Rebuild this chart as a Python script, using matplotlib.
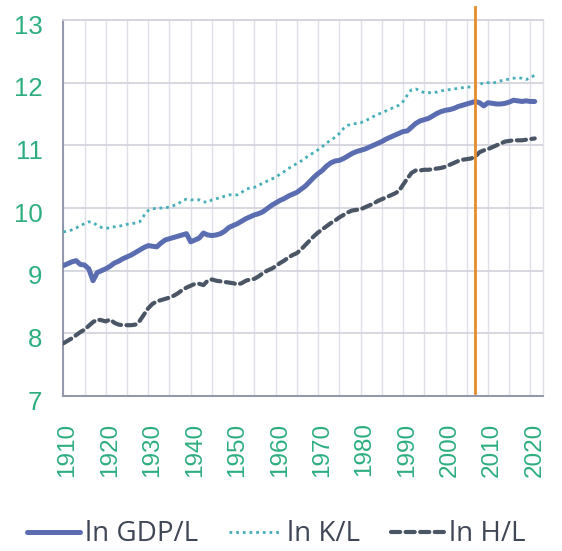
import numpy as np
import matplotlib
matplotlib.use('Agg')
import matplotlib.pyplot as plt
from matplotlib.transforms import ScaledTranslation

# Years and series.
years = np.arange(1910, 2022)

ln_gdp_l = [
    9.08, 9.11, 9.14, 9.16, 9.10, 9.09, 9.03, 8.84, 8.97, 9.00,
    9.03, 9.07, 9.12, 9.15, 9.19, 9.22, 9.25, 9.29, 9.33, 9.37,
    9.40, 9.39, 9.38, 9.44, 9.49, 9.51, 9.53, 9.55, 9.57, 9.59,
    9.46, 9.49, 9.52, 9.60, 9.57, 9.56, 9.57, 9.59, 9.63, 9.69,
    9.72, 9.75, 9.79, 9.83, 9.86, 9.89, 9.91, 9.94, 9.99, 10.04,
    10.08, 10.12, 10.15, 10.19, 10.22, 10.25, 10.30, 10.35, 10.42, 10.49,
    10.55, 10.60, 10.67, 10.72, 10.75, 10.76, 10.79, 10.83, 10.87, 10.90,
    10.92, 10.94, 10.97, 11.00, 11.03, 11.06, 11.10, 11.13, 11.16, 11.19,
    11.22, 11.23, 11.29, 11.35, 11.39, 11.41, 11.43, 11.47, 11.51, 11.54,
    11.56, 11.57, 11.59, 11.62, 11.64, 11.66, 11.68, 11.70, 11.68, 11.63,
    11.68, 11.67, 11.66, 11.66, 11.67, 11.69, 11.72, 11.71, 11.70, 11.71,
    11.70, 11.70,
]

ln_k_l = [
    9.62, 9.63, 9.65, 9.68, 9.72, 9.75, 9.78, 9.77, 9.72, 9.69,
    9.68, 9.68, 9.70, 9.71, 9.72, 9.74, 9.75, 9.76, 9.78, 9.88,
    9.96, 9.99, 9.99, 10.00, 10.00, 10.02, 10.04, 10.06, 10.12, 10.14,
    10.13, 10.13, 10.13, 10.10, 10.09, 10.13, 10.15, 10.16, 10.19, 10.21,
    10.21, 10.21, 10.25, 10.30, 10.32, 10.33, 10.36, 10.40, 10.43, 10.46,
    10.49, 10.54, 10.58, 10.63, 10.67, 10.71, 10.75, 10.80, 10.84, 10.89,
    10.93, 10.98, 11.04, 11.08, 11.13, 11.19, 11.27, 11.32, 11.34, 11.35,
    11.36, 11.39, 11.42, 11.46, 11.49, 11.52, 11.55, 11.58, 11.61, 11.64,
    11.70, 11.80, 11.89, 11.90, 11.87, 11.84, 11.84, 11.84, 11.85, 11.87,
    11.88, 11.89, 11.90, 11.91, 11.92, 11.93, 11.93, 11.94, 11.97, 12.00,
    12.00, 11.99, 12.01, 12.03, 12.04, 12.06, 12.07, 12.08, 12.07, 12.05,
    12.08, 12.12,
]

ln_h_l = [
    7.84, 7.88, 7.92, 7.97, 8.02, 8.06, 8.12, 8.18, 8.22, 8.21,
    8.19, 8.22, 8.17, 8.14, 8.13, 8.13, 8.13, 8.14, 8.20, 8.30,
    8.40, 8.47, 8.51, 8.53, 8.55, 8.57, 8.60, 8.64, 8.69, 8.73,
    8.76, 8.79, 8.79, 8.77, 8.84, 8.86, 8.84, 8.83, 8.82, 8.81,
    8.80, 8.78, 8.80, 8.84, 8.86, 8.87, 8.91, 8.96, 9.00, 9.03,
    9.07, 9.12, 9.16, 9.21, 9.25, 9.28, 9.34, 9.41, 9.48, 9.55,
    9.61, 9.66, 9.71, 9.76, 9.80, 9.85, 9.89, 9.93, 9.96, 9.97,
    9.98, 10.01, 10.04, 10.07, 10.11, 10.14, 10.17, 10.20, 10.23, 10.27,
    10.37, 10.47, 10.56, 10.60, 10.60, 10.61, 10.61, 10.62, 10.63, 10.64,
    10.66, 10.69, 10.72, 10.75, 10.77, 10.78, 10.79, 10.82, 10.89, 10.92,
    10.94, 10.97, 11.00, 11.03, 11.06, 11.07, 11.08, 11.08, 11.08, 11.09,
    11.10, 11.11,
]

break_year = 2007
xticks = np.arange(1910, 2021, 10)
yticks = np.arange(7, 14, 1)

green = '#2DAE7F'

fig = plt.figure(figsize=(5.62, 5.51), dpi=100)
ax = fig.add_axes([0.1126, 0.2813, 0.854, 0.6824])

ax.plot(years, ln_gdp_l, color='#5A6DB0', lw=3.6,
        solid_capstyle='round', label='ln GDP/L', zorder=3)
ax.plot(years, ln_k_l, color='#45AEB8', lw=2.0,
        linestyle=(0, (1, 1.4)), label='ln K/L', zorder=3)
ax.plot(years, ln_h_l, color='#4A5566', lw=3.0,
        linestyle=(0, (2.2, 1.3)), dash_capstyle='round',
        label='ln H/L', zorder=3)

# vertical marker at the break year
ax.plot([break_year, break_year], [7.05, 13.2], color='#E88B2C', lw=2.0,
        clip_on=False, zorder=4)

ax.set_xlim(1910, 2023)
ax.set_ylim(7, 13)

ax.set_xticks(np.arange(1910, 2021, 5), minor=True)
ax.set_xticks(xticks)
ax.set_xticklabels([str(y) for y in xticks], rotation=90,
                   fontfamily='Liberation Sans', fontsize=17.5, color=green)
ax.set_yticks(yticks)
ax.set_yticklabels([str(v) for v in yticks],
                   fontfamily='Liberation Sans', fontsize=18.5, color=green)
ax.tick_params(axis='both', which='both', length=0)
ax.tick_params(axis='x', pad=19)
ax.tick_params(axis='y', pad=15)

# small nudges so labels sit as in the reference
dx = ScaledTranslation(4 / 100, 0, fig.dpi_scale_trans)
dy = ScaledTranslation(0, -4 / 100, fig.dpi_scale_trans)
for lab in ax.get_xticklabels():
    lab.set_transform(lab.get_transform() + dx)
for lab in ax.get_yticklabels():
    lab.set_transform(lab.get_transform() + dy)

ax.grid(axis='x', which='both', color='#E0E0E8', lw=1.0, zorder=0)
ax.grid(axis='y', which='major', color='#D4D4DE', lw=1.3, zorder=0)
ax.set_axisbelow(True)

for side in ['left', 'bottom']:
    ax.spines[side].set_color('#8A90A6')
    ax.spines[side].set_linewidth(1.3)
ax.spines['top'].set_color('#D4D4DE')
ax.spines['top'].set_linewidth(1.3)
ax.spines['right'].set_color('#E0E0E8')
ax.spines['right'].set_linewidth(1.0)

leg = fig.legend(loc='center', bbox_to_anchor=(0.492, 0.03), ncol=3,
                 frameon=False, handlelength=1.9, handletextpad=0.2,
                 columnspacing=1.1,
                 prop={'family': 'Open Sans', 'size': 20})
for t in leg.get_texts():
    t.set_color('#3F4656')

fig.savefig('out.png', dpi=100)
